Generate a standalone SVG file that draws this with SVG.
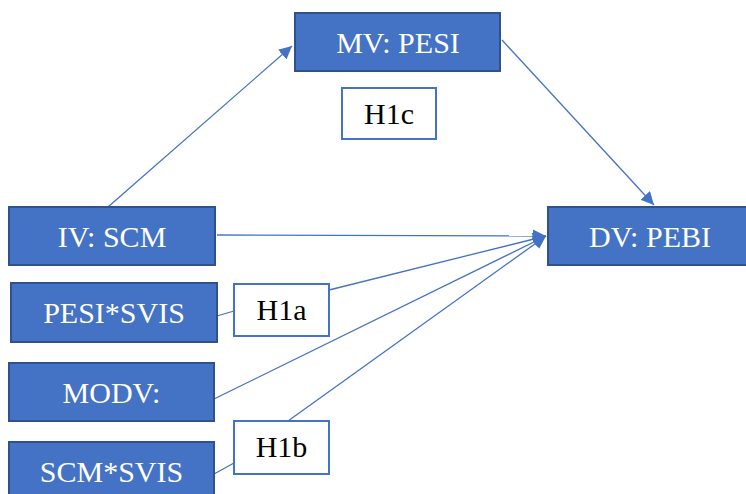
<svg xmlns="http://www.w3.org/2000/svg" width="746" height="494" viewBox="0 0 746 494">
<style>
.n{fill:#4472C4;stroke:#2F528F;stroke-width:2}
.h{fill:#fff;stroke:#4472C4;stroke-width:2}
.w{fill:#fff}
.k{fill:#000}
.c{stroke:#4472C4;stroke-width:1.3;fill:none}
</style>
<defs>
<marker id="a" viewBox="0 0 10 10" refX="10" refY="5" markerWidth="13" markerHeight="13" markerUnits="userSpaceOnUse" orient="auto">
<path d="M0,0 L10,5 L0,10 z" fill="#4472C4"/>
</marker>
</defs>
<rect width="746" height="494" fill="#fff"/>
<g id="connectors">
<line class="c" x1="108" y1="207" x2="292" y2="46" marker-end="url(#a)"/>
<line class="c" x1="502" y1="40" x2="654" y2="205" marker-end="url(#a)"/>
<line class="c" x1="217" y1="235" x2="546" y2="236" marker-end="url(#a)"/>
<line class="c" x1="329" y1="290" x2="546" y2="236" marker-end="url(#a)"/>
<line class="c" x1="214" y1="399" x2="546" y2="236" marker-end="url(#a)"/>
<line class="c" x1="288" y1="421" x2="546" y2="236" marker-end="url(#a)"/>
<line class="c" x1="217" y1="316" x2="234" y2="311"/>
<line class="c" x1="214" y1="474" x2="234" y2="463"/>
</g>
<g id="mv"><rect class="n" x="295" y="13" width="205" height="58"/><text class="w" x="398" y="53" font-family="Liberation Serif" font-size="30" text-anchor="middle">MV: PESI</text></g>
<g id="h1c"><rect class="h" x="342" y="88" width="94" height="51"/><text class="k" x="389" y="124" font-family="Liberation Serif" font-size="30" text-anchor="middle">H1c</text></g>
<g id="iv"><rect class="n" x="9" y="207" width="206" height="58"/><text class="w" x="112" y="247" font-family="Liberation Serif" font-size="30" text-anchor="middle">IV: SCM</text></g>
<g id="pesisvis"><rect class="n" x="11" y="283" width="206" height="59"/><text class="w" x="114" y="323" font-family="Liberation Serif" font-size="30" text-anchor="middle">PESI*SVIS</text></g>
<g id="h1a"><rect class="h" x="234" y="284" width="95" height="52"/><text class="k" x="281.5" y="320" font-family="Liberation Serif" font-size="30" text-anchor="middle">H1a</text></g>
<g id="modv"><rect class="n" x="9" y="363" width="205" height="58"/><text class="w" x="111.5" y="403" font-family="Liberation Serif" font-size="30" text-anchor="middle">MODV:</text></g>
<g id="scmsvis"><rect class="n" x="9" y="442" width="205" height="60"/><text class="w" x="111.5" y="482" font-family="Liberation Serif" font-size="30" text-anchor="middle">SCM*SVIS</text></g>
<g id="h1b"><rect class="h" x="234" y="421" width="95" height="53"/><text class="k" x="281.5" y="457" font-family="Liberation Serif" font-size="30" text-anchor="middle">H1b</text></g>
<g id="dv"><rect class="n" x="548" y="207" width="205" height="58"/><text class="w" x="650" y="247" font-family="Liberation Serif" font-size="30" text-anchor="middle">DV: PEBI</text></g>
</svg>
